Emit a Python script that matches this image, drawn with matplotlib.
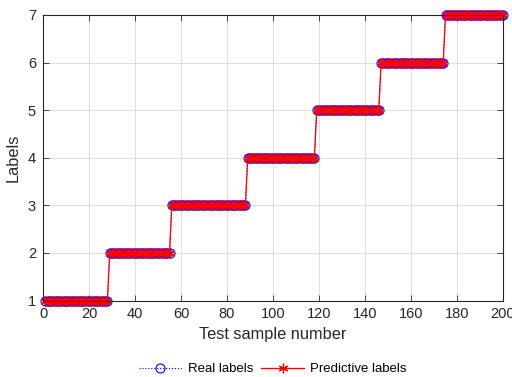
import numpy as np
import matplotlib
matplotlib.use("Agg")
import matplotlib.pyplot as plt

plt.rcParams['font.family'] = ['Liberation Sans', 'DejaVu Sans']

# class labels and the number of consecutive test samples of each
classes = [1, 2, 3, 4, 5, 6, 7]
counts = [28, 27, 33, 30, 28, 28, 26]
real_labels = np.repeat(classes, counts)
pred_labels = real_labels.copy()
sample_idx = np.arange(1, len(real_labels) + 1)

xticks = [0, 20, 40, 60, 80, 100, 120, 140, 160, 180, 200]
yticks = [1, 2, 3, 4, 5, 6, 7]

fig = plt.figure(figsize=(5.12, 3.77), dpi=100)
ax = fig.add_axes([43/512, 1 - 300.5/377, 460/512, 285.5/377])

ax.plot(sample_idx, real_labels, color='blue', linestyle=':', linewidth=0.8,
        marker='o', markersize=6.5, markerfacecolor='none', markeredgewidth=0.8,
        label='Real labels', clip_on=False)
ax.plot(sample_idx, pred_labels, color='red', linestyle='-', linewidth=0.9,
        marker=(6, 2, 0), markersize=7, markeredgewidth=0.9,
        label='Predictive labels', clip_on=False)

ax.set_xlim(0, 200)
ax.set_ylim(1, 7)
ax.set_xticks(xticks)
ax.set_yticks(yticks)
ax.tick_params(direction='in', top=True, right=True, labelsize=10.5,
               colors='#262626', length=4, width=0.6, pad=5)
for s in ax.spines.values():
    s.set_color('#262626')
    s.set_linewidth(0.8)
ax.grid(True, color='#dedede', linewidth=0.7)
ax.set_axisbelow(True)
ax.set_xlabel('Test sample number', fontsize=11.8, color='#262626', labelpad=4)
ax.set_ylabel('Labels', fontsize=11.8, color='#262626', labelpad=5)

fig.legend(loc='center', bbox_to_anchor=(273/512, 1 - 369/377), ncol=2,
           frameon=False, fontsize=9.5, handlelength=3.2, columnspacing=0.6,
           handletextpad=0.5, markerscale=1.0)

fig.savefig('out.png', dpi=100)
